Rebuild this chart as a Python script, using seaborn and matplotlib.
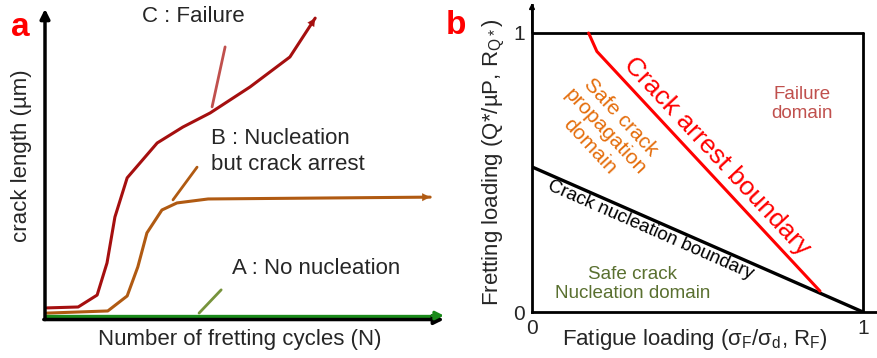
import matplotlib
matplotlib.use("Agg")
import matplotlib.pyplot as plt
import seaborn as sns
import pandas as pd

# ---- panel a: crack length vs. number of fretting cycles (schematic) ----
cycles_c = [0.5, 8.4, 13.2, 15.7, 17.7, 20.8, 28.4, 34.9, 41.8, 51.9, 62.0, 68.4]
length_c = [3.3, 3.6, 7.5, 18.0, 33.0, 45.8, 57.2, 62.4, 67.0, 75.5, 85.3, 98.0]
cycles_b = [0.5, 15.9, 20.8, 23.5, 25.8, 29.6, 33.4, 41.3, 97.5]
length_b = [1.6, 2.3, 7.2, 16.7, 27.8, 35.3, 37.6, 38.9, 39.5]
cycles_a = [0.0, 100.0]
length_a = [0.8, 0.8]

# ---- panel b: fretting / fatigue map ----
nucleation_x = [0.0, 1.0]
nucleation_y = [0.52, 0.0]
arrest_x = [0.171, 0.196, 0.87]
arrest_y = [1.0, 0.934, 0.075]
tick_labels = ["0", "1"]

sns.set_theme(style="white")
plt.rcParams["font.family"] = ["Liberation Sans", "DejaVu Sans"]
plt.rcParams["mathtext.fontset"] = "custom"
plt.rcParams["mathtext.rm"] = "Liberation Sans"
plt.rcParams["mathtext.it"] = "Liberation Sans:italic"

W, H = 877, 358
fig = plt.figure(figsize=(W / 100, H / 100), dpi=100)


def px_axes(x0, y0, x1, y1):
    """Axes from pixel box (left, top, right, bottom)."""
    return fig.add_axes([x0 / W, 1 - y1 / H, (x1 - x0) / W, (y1 - y0) / H])


C_RED = "#a50f0f"
C_BROWN = "#b05a12"
C_GREEN = "#1a8a1a"
fs = 16

# ------------------------- panel a -------------------------
axa = px_axes(45, 12, 440, 318)
axa.set_xlim(0, 100)
axa.set_ylim(0, 100)
for s in axa.spines.values():
    s.set_visible(False)
axa.set_xticks([])
axa.set_yticks([])

df_c = pd.DataFrame({"N": cycles_c, "L": length_c})
df_b = pd.DataFrame({"N": cycles_b, "L": length_b})
df_a = pd.DataFrame({"N": cycles_a, "L": length_a})
sns.lineplot(data=df_c, x="N", y="L", ax=axa, color=C_RED, lw=2.2, sort=False, estimator=None)
sns.lineplot(data=df_b, x="N", y="L", ax=axa, color=C_BROWN, lw=2.2, sort=False, estimator=None)

# axes drawn as arrows
axa.annotate("", xy=(0, 101), xytext=(0, -0.5), annotation_clip=False,
             arrowprops=dict(arrowstyle="-|>", color="black", lw=2.5, mutation_scale=14, shrinkA=0, shrinkB=0))
axa.annotate("", xy=(101, -0.5), xytext=(-0.3, -0.5), annotation_clip=False,
             arrowprops=dict(arrowstyle="-|>", color="black", lw=2.5, mutation_scale=14, shrinkA=0, shrinkB=0))
sns.lineplot(data=df_a, x="N", y="L", ax=axa, color=C_GREEN, lw=2.4, sort=False, estimator=None)
axa.annotate("", xy=(cycles_a[-1] + 1, length_a[-1]), xytext=(cycles_a[-1] - 2, length_a[-1]),
             annotation_clip=False,
             arrowprops=dict(arrowstyle="-|>", color=C_GREEN, lw=2.2, mutation_scale=12, shrinkA=0, shrinkB=0))

# arrowheads at the curve ends
for xs, ys, col in [(cycles_c, length_c, C_RED), (cycles_b, length_b, C_BROWN)]:
    axa.annotate("", xy=(xs[-1], ys[-1]), xytext=(xs[-2], ys[-2]), annotation_clip=False,
                 arrowprops=dict(arrowstyle="-|>", color=col, lw=0.1, mutation_scale=14,
                                 shrinkA=0, shrinkB=0))

axa.set_xlabel("")
axa.set_ylabel("")

# leader lines and curve labels
axa.plot([45.6, 42.3], [88.6, 69.0], color="#c0504d", lw=2)
axa.plot([38.5, 32.4], [49.3, 38.6], color=C_BROWN, lw=2)
axa.plot([44.6, 39.0], [9.2, 1.6], color="#77933c", lw=2)
axa.text(24.6, 98.5, "C : Failure", fontsize=fs, va="center", ha="left", clip_on=False)
axa.text(42.0, 58.8, "B : Nucleation", fontsize=fs, va="center", ha="left")
axa.text(42.0, 50.0, "but crack arrest", fontsize=fs, va="center", ha="left")
axa.text(47.3, 16.3, "A : No nucleation", fontsize=fs, va="center", ha="left")

fig.text(240 / W, 1 - 340 / H, "Number of fretting cycles (N)", fontsize=fs, ha="center", va="center")
fig.text(22 / W, 1 - 156 / H, "crack length (µm)", fontsize=fs, ha="center", va="center", rotation=90)
fig.text(20 / W, 1 - 28 / H, "a", fontsize=24, fontweight="bold", color="red", ha="center", va="center")

# ------------------------- panel b -------------------------
x0b, x1b, top_b, bot_b = 532, 863, 33, 312
sx = (x1b - x0b)
sy = (bot_b - top_b)
axb = px_axes(x0b, 5, W, bot_b)
axb.set_xlim(0, (W - x0b) / sx)
axb.set_ylim(0, (bot_b - 5) / sy)
for name in ["top", "right"]:
    axb.spines[name].set_visible(False)
for name in ["left", "bottom"]:
    axb.spines[name].set_color("black")
    axb.spines[name].set_linewidth(2)
axb.set_xticks([0, 1])
axb.set_xticklabels(tick_labels)
axb.set_yticks([0, 1])
axb.set_yticklabels(tick_labels)
axb.tick_params(length=0, labelsize=15, pad=5)
axb.annotate("", xy=(0, (bot_b - 3) / sy), xytext=(0, 1.0), annotation_clip=False,
             arrowprops=dict(arrowstyle="-|>", color="black", lw=1.2, mutation_scale=8, shrinkA=0, shrinkB=0))

# frame at the unit loading levels
axb.plot([0, 1], [1, 1], color="black", lw=2)
axb.plot([1, 1], [0, 1], color="black", lw=2)

df_n = pd.DataFrame({"x": nucleation_x, "y": nucleation_y})
df_r = pd.DataFrame({"x": arrest_x, "y": arrest_y})
sns.lineplot(data=df_n, x="x", y="y", ax=axb, color="black", lw=2.4, sort=False, estimator=None)
sns.lineplot(data=df_r, x="x", y="y", ax=axb, color="#ff0000", lw=2.2, sort=False, estimator=None)
axb.set_xlabel("")
axb.set_ylabel("")

axb.text(0.559, 0.556, "Crack arrest boundary", fontsize=19, color="#ff0000", rotation=-47,
         ha="center", va="center", rotation_mode="anchor")
axb.text(0.815, 0.745, "Failure\ndomain", fontsize=13.5, color="#c0504d", ha="center", va="center",
         linespacing=1.15)
axb.text(0.22, 0.645, "Safe crack\npropagation\ndomain", fontsize=15, color="#e46c0a", rotation=-47,
         ha="center", va="center", rotation_mode="anchor", linespacing=1.15)
axb.text(0.358, 0.292, "Crack nucleation boundary", fontsize=13.5, color="black", rotation=-23.7,
         ha="center", va="center", rotation_mode="anchor")
axb.text(0.305, 0.10, "Safe crack\nNucleation domain", fontsize=13.6, color="#5a7030", ha="center",
         va="center", linespacing=1.1)

fig.text(695 / W, 1 - 340 / H, "Fatigue loading (σ$_\\mathrm{F}$/σ$_\\mathrm{d}$, R$_\\mathrm{F}$)",
         fontsize=fs, ha="center", va="center")
fig.text(494 / W, 1 - 162 / H, "Fretting loading (Q*/µP, R$_{\\mathrm{Q*}}$)",
         fontsize=fs, ha="center", va="center", rotation=90)
fig.text(456 / W, 1 - 25 / H, "b", fontsize=24, fontweight="bold", color="red", ha="center", va="center")

fig.savefig("out.png", dpi=100)
